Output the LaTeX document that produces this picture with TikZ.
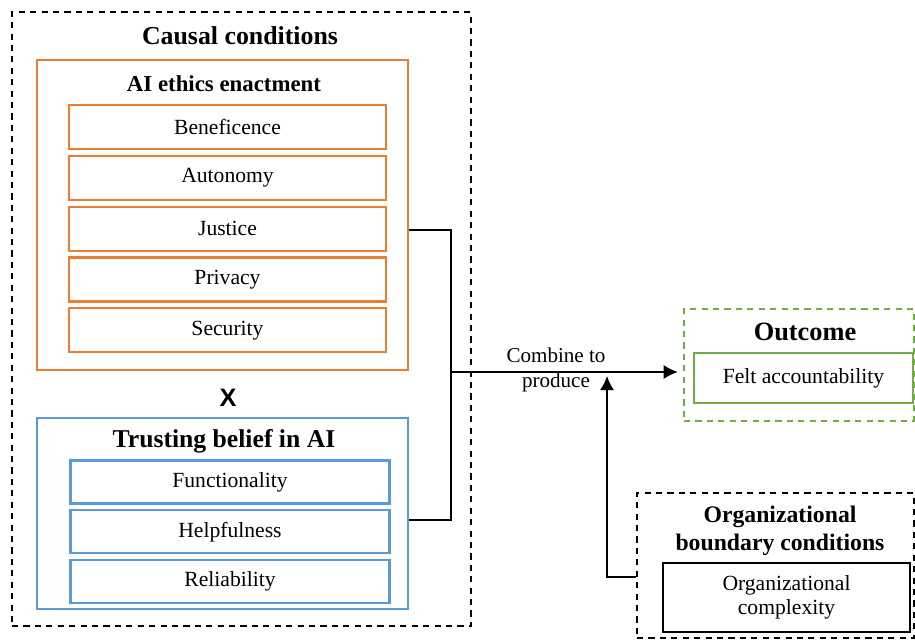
\documentclass[tikz,border=0pt]{standalone}
\usepackage{fontspec}
\setmainfont{Liberation Serif}
\setsansfont{Liberation Sans}
\usepackage{tikz}
\usetikzlibrary{arrows.meta, positioning}

\definecolor{ethorange}{RGB}{237,125,49}
\definecolor{trustblue}{RGB}{91,155,213}
\definecolor{outgreen}{RGB}{112,173,71}

\begin{document}
\begin{tikzpicture}[x=0.02cm, y=-0.02cm, node distance=0.095cm,
    group/.style={rectangle, draw, dash pattern=on 3.5pt off 3pt, line width=1.1pt, inner sep=0pt},
    frame/.style={rectangle, draw, line width=1.1pt, inner sep=0pt},
    title/.style={font=\fontsize{13}{15}\selectfont\bfseries, align=center},
    item/.style={rectangle, draw, line width=1.2pt, font=\fontsize{12.3}{14}\selectfont, align=center, inner sep=0pt},
    ethitem/.style={item, draw=ethorange, minimum width=6.34cm, minimum height=0.88cm},
    trustitem/.style={item, draw=trustblue, minimum width=6.38cm, minimum height=0.86cm},
    link/.style={line width=1pt},
    tip/.style={-{Latex[length=8pt, width=8pt]}}]
    \useasboundingbox (0,0) rectangle (915,644);

    % causal conditions
    \node[group, minimum width=9.18cm, minimum height=12.28cm] (causal) at (241.5,319) {};
    \node[title, font=\fontsize{14.7}{17}\selectfont\bfseries] (causaltitle) at (240,36) {Causal conditions};

    \node[frame, draw=ethorange, minimum width=7.42cm, minimum height=6.2cm] (ethics) at (222.5,215) {};
    \node[title] (ethicstitle) at (224,84) {AI ethics enactment};
    \node[ethitem] (benef) at (227.5,127) {Beneficence};
    \node[ethitem, below=of benef] (auton) {Autonomy};
    \node[ethitem, below=of auton] (justice) {Justice};
    \node[ethitem, below=of justice] (privacy) {Privacy};
    \node[ethitem, below=of privacy] (security) {Security};

    \node[font=\sffamily\bfseries\Large] (times) at (228,398) {X};

    \node[frame, draw=trustblue, minimum width=7.42cm, minimum height=3.82cm] (trust) at (222.5,513.5) {};
    \node[title, font=\fontsize{14.6}{17}\selectfont\bfseries] (trusttitle) at (224,441) {Trusting belief in AI};
    \node[trustitem] (funct) at (230,482) {Functionality};
    \node[trustitem, below=of funct] (helpful) {Helpfulness};
    \node[trustitem, below=of helpful] (reliab) {Reliability};

    % outcome
    \node[group, draw=outgreen, minimum width=4.6cm, minimum height=2.24cm] (outcome) at (799,365) {};
    \node[title, font=\fontsize{15}{17}\selectfont\bfseries] (outcometitle) at (805,332) {Outcome};
    \node[item, draw=outgreen, minimum width=4.38cm, minimum height=1cm] (felt) at (803.5,378) {Felt accountability};

    % boundary conditions
    \node[group, minimum width=5.54cm, minimum height=2.9cm] (org) at (775.5,565.5) {};
    \node[title, font=\fontsize{13.5}{16}\selectfont\bfseries] (orgtitle) at (780,531) {Organizational\\boundary conditions};
    \node[item, minimum width=4.94cm, minimum height=1.38cm] (complex) at (786.5,597.5) {Organizational\\complexity};

    % connectors
    \coordinate (join) at (451,372);
    \coordinate (arrtip) at (607,376);
    \node[font=\fontsize{12}{14}\selectfont, align=center] (combine) at (556,370) {Combine to\\produce};

    \draw[link] ([yshift=-0.3cm]ethics.east) -| (join) |- ([yshift=-0.13cm]trust.east);
    \draw[link, tip] (join) -- ([xshift=-3pt]outcome.west |- join);
    \draw[link, tip] ([yshift=-0.23cm]org.west) -| (arrtip);
\end{tikzpicture}
\end{document}
